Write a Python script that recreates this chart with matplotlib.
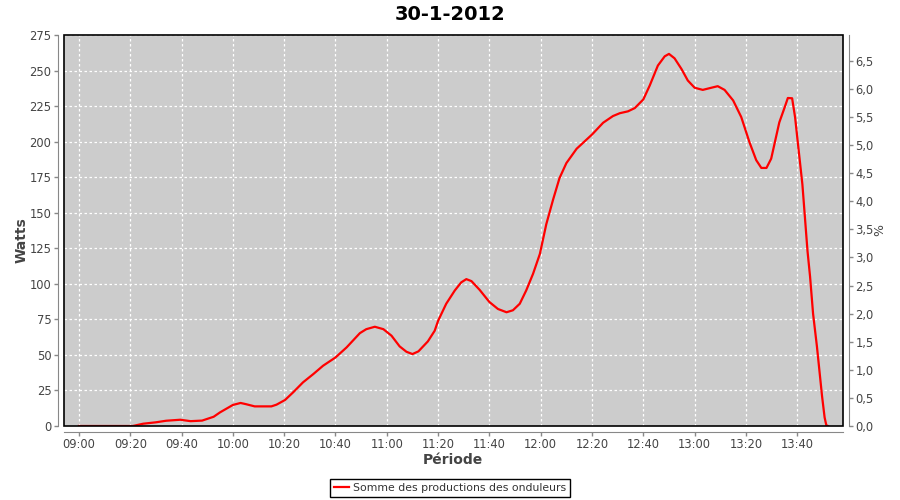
import numpy as np
import pandas as pd
import matplotlib
matplotlib.use("Agg")
import matplotlib.pyplot as plt
import matplotlib.dates as mdates
from matplotlib.patches import Rectangle
from matplotlib.ticker import FixedLocator, FixedFormatter

# DATA
DAY = "2012-01-30"
times = ["09:00:00", "09:10:00", "09:21:00", "09:25:00", "09:30:00", "09:34:00",
         "09:39:30", "09:43:30", "09:48:00", "09:50:00", "09:52:30", "09:55:00",
         "10:00:00", "10:03:00", "10:05:00", "10:08:30", "10:15:00", "10:17:00",
         "10:20:20", "10:23:30", "10:27:20", "10:31:20", "10:35:10", "10:40:00",
         "10:44:20", "10:49:30", "10:52:00", "10:55:20", "10:58:40", "11:01:50",
         "11:05:00", "11:07:40", "11:10:00", "11:12:20", "11:16:00", "11:18:40",
         "11:20:00", "11:23:10", "11:26:30", "11:29:00", "11:31:00", "11:33:00",
         "11:36:10", "11:40:00", "11:43:20", "11:46:40", "11:49:10", "11:51:50",
         "11:54:20", "11:57:00", "11:59:40", "12:02:10", "12:04:50", "12:07:20",
         "12:10:00", "12:14:00", "12:20:00", "12:24:20", "12:28:10", "12:30:50",
         "12:34:00", "12:36:40", "12:40:00", "12:42:30", "12:45:40", "12:48:20",
         "12:50:00", "12:52:10", "12:54:50", "12:57:20", "13:00:00", "13:03:10",
         "13:06:30", "13:09:00", "13:11:40", "13:15:00", "13:18:10", "13:21:20",
         "13:24:00", "13:26:00", "13:28:00", "13:29:50", "13:33:00", "13:35:10",
         "13:36:20", "13:38:00", "13:39:10", "13:40:00", "13:42:00", "13:44:00",
         "13:45:00", "13:46:10", "13:47:40", "13:49:40", "13:50:40", "13:51:20",
         "13:52:00"]
watts = [0, 0, 0, 1.6, 2.6, 3.7,
         4.4, 3.4, 3.8, 5, 6.5, 9.6,
         14.8, 16.2, 15.4, 13.8, 13.8, 15,
         18.3, 23.7, 30.7, 36.5, 42.4, 48.2,
         55.3, 65.3, 68.1, 69.8, 68.1, 63.5,
         56, 52.2, 50.6, 52.5, 59.5, 67,
         74, 86, 95.3, 101, 103.3, 101.9,
         95.8, 87.2, 82.3, 80, 81.4, 86,
         95.3, 107, 121, 141.9, 159.3, 174.4,
         184.9, 195, 205, 213.3, 218, 220,
         221.3, 223.6, 229.7, 239.5, 253.5, 260,
         261.7, 258.6, 251.2, 243, 237.9, 236.4,
         237.9, 239, 236.4, 229, 217.3, 199.8,
         187, 181.5, 181.5, 188, 213.5, 224.5,
         230.7, 230.5, 217, 203, 170, 123,
         105, 79, 56, 21, 6, 0.5,
         0]
series_label = "Somme des productions des onduleurs"
pct_ticks = [0.0, 0.5, 1.0, 1.5, 2.0, 2.5, 3.0, 3.5, 4.0, 4.5, 5.0, 5.5, 6.0, 6.5]

t = pd.to_datetime([DAY + " " + s for s in times])

plt.rcParams['font.family'] = ['DejaVu Sans']
TICK_COL = '#444444'
AXIS_COL = '#888888'

fig = plt.figure(figsize=(9, 5), dpi=100, facecolor='white')
ax = fig.add_axes([64 / 900, 74 / 500, 779 / 900, 391 / 500])
ax.set_facecolor('#cccccc')

line, = ax.plot(t, watts, color='red', lw=1.6, zorder=3)

# axes ranges
ax.set_xlim(pd.Timestamp(DAY + " 08:54:10"), pd.Timestamp(DAY + " 13:57:50"))
ax.set_ylim(0, 275)
ax.set_yticks(np.arange(0, 276, 25))
ax.xaxis.set_major_locator(mdates.MinuteLocator(byminute=[0, 20, 40]))
ax.xaxis.set_major_formatter(mdates.DateFormatter('%H:%M'))

# white dashed grid
ax.grid(True, color='white', linestyle=(0, (2, 2)), lw=0.9)
ax.set_axisbelow(True)

# axis lines set slightly apart from the plot border
for side in ['top', 'right']:
    ax.spines[side].set_visible(False)
for side in ['left', 'bottom']:
    ax.spines[side].set_position(('outward', 4))
    ax.spines[side].set_color(AXIS_COL)
ax.tick_params(axis='both', colors=AXIS_COL, labelcolor=TICK_COL,
               labelsize=8.3, length=3, width=1, pad=2)

# black plot border
ax.add_patch(Rectangle((0, 0), 1, 1, transform=ax.transAxes, fill=False,
                       ec='black', lw=1.2, zorder=5, clip_on=False))

# right axis in %
ax2 = ax.twinx()
ax2.set_ylim(0, 6.96)
ax2.yaxis.set_major_locator(FixedLocator(pct_ticks))
ax2.yaxis.set_major_formatter(FixedFormatter([f"{v:.1f}".replace('.', ',') for v in pct_ticks]))
for side in ['top', 'left', 'bottom']:
    ax2.spines[side].set_visible(False)
ax2.spines['right'].set_position(('outward', 4))
ax2.spines['right'].set_color(AXIS_COL)
ax2.tick_params(axis='y', colors=AXIS_COL, labelcolor=TICK_COL,
                labelsize=8.3, length=3, width=1, pad=2)

# labels
fig.text(0.5, 1 - 14 / 500, "30-1-2012", ha='center', va='center',
         fontsize=14, fontweight='bold')
fig.text(22 / 900, 1 - 240 / 500, "Watts", rotation=90, ha='center', va='center',
         fontsize=10, fontweight='bold', color=TICK_COL)
fig.text(880 / 900, 1 - 230 / 500, "%", rotation=90, ha='center', va='center',
         fontsize=9, color=TICK_COL)
fig.text(453 / 900, 1 - 460 / 500, "Période", ha='center', va='center',
         fontsize=10, fontweight='bold', color=TICK_COL)

# legend
leg = fig.legend([line], [series_label], loc='center',
                 bbox_to_anchor=(0.5, 1 - 488 / 500), fontsize=7.8,
                 fancybox=False, framealpha=1, edgecolor='black',
                 handlelength=1.4, handletextpad=0.3, borderpad=0.4,
                 borderaxespad=0)
leg.get_frame().set_linewidth(1)
for txt in leg.get_texts():
    txt.set_color('#333333')

fig.savefig("out.png", dpi=100, facecolor='white')
